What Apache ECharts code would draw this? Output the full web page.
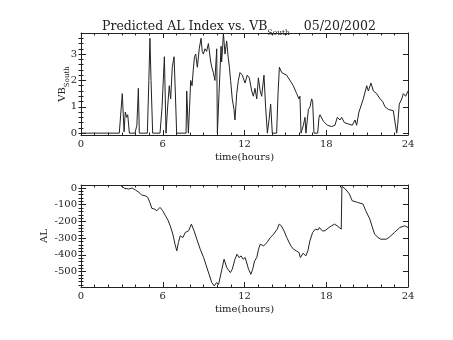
<!DOCTYPE html>
<html>
<head>
<meta charset="utf-8">
<script src="https://cdn.jsdelivr.net/npm/echarts@6/dist/echarts.min.js"></script>
<style>
  html, body { margin: 0; padding: 0; background: #fff; }
  #chart { width: 453px; height: 340px; }
</style>
</head>
<body>
<div id="chart"></div>
<script>
// Southward IMF component (VB_South) through the day, hours UT
const vbHours = [
  0, 2.81, 3.03, 3.16, 3.25, 3.35, 3.43, 3.55, 3.96, 4.1, 4.21, 4.28,
  4.87, 4.98, 5.06, 5.14, 5.26, 5.8, 5.95, 6.12, 6.24, 6.36, 6.48, 6.58,
  6.70, 6.83, 6.92, 7.02, 7.71, 7.76, 7.88, 7.97, 8.05, 8.15, 8.24, 8.33,
  8.42, 8.54, 8.68, 8.81, 8.9, 8.98, 9.1, 9.22, 9.35, 9.52, 9.6, 9.71,
  9.83, 9.96, 10.01, 10.13, 10.28, 10.32, 10.4, 10.45, 10.57, 10.69, 10.8, 10.89,
  10.98, 11.1, 11.23, 11.3, 11.43, 11.55, 11.67, 11.84, 12.04, 12.2, 12.35, 12.53,
  12.65, 12.77, 12.9, 13.02, 13.15, 13.26, 13.43, 13.55, 13.68, 13.8, 13.92, 14.04,
  14.36, 14.46, 14.56, 14.73, 14.9, 15.09, 15.34, 15.58, 15.83, 16.0, 16.07, 16.15,
  16.32, 16.44, 16.51, 16.69, 16.81, 16.93, 17.0, 17.1, 17.37, 17.47, 17.54, 17.79,
  18.08, 18.4, 18.64, 18.81, 19.01, 19.13, 19.33, 19.62, 19.91, 20.11, 20.23, 20.4,
  20.72, 20.97, 21.09, 21.28, 21.46, 21.7, 21.95, 22.14, 22.31, 22.56, 22.92, 23.05,
  23.17, 23.24, 23.36, 23.54, 23.66, 23.83, 24.0
];
const vbValues = [
  0, 0, 1.5, 0.05, 0.8, 0.6, 0.7, 0, 0, 0.3, 1.7, 0,
  0, 2.0, 3.6, 2.0, 0, 0, 1.0, 2.9, 0, 1.0, 1.8, 1.3,
  2.5, 2.9, 1.6, 0, 0, 1.6, 0, 1.0, 2.0, 1.8, 2.4, 2.9,
  3.0, 2.5, 3.2, 3.6, 3.1, 3.0, 3.2, 3.1, 3.4, 2.7, 2.5, 2.3,
  2.0, 3.2, 0, 1.5, 3.3, 2.7, 3.3, 3.8, 3.0, 3.5, 2.9, 2.5,
  2.0, 1.3, 0.9, 0.5, 1.5, 2.0, 2.3, 2.2, 1.9, 2.2, 2.1, 1.6,
  1.4, 1.7, 1.3, 2.1, 1.6, 1.4, 2.2, 1.0, 0, 0.5, 1.1, 0,
  0, 1.5, 2.5, 2.3, 2.25, 2.2, 2.0, 1.8, 1.5, 1.3, 1.4, 0,
  0.3, 0.6, 0, 0.9, 1.0, 1.3, 1.2, 0, 0, 0.6, 0.7, 0.45,
  0.3, 0.25, 0.3, 0.6, 0.5, 0.6, 0.4, 0.35, 0.3, 0.5, 0.3, 0.8,
  1.3, 1.8, 1.6, 1.9, 1.6, 1.5, 1.3, 1.2, 1.0, 0.9, 0.85, 0.8,
  0, 0.3, 1.1, 1.3, 1.5, 1.4, 1.6
];

// Predicted AL index (nT)
const alHours = [
  2.95, 3.2, 3.5, 3.75, 4.0, 4.25, 4.46, 4.7, 4.9, 5.05, 5.2, 5.4, 5.56, 5.8, 6.0,
  6.2, 6.35, 6.55, 6.74, 6.9, 7.03, 7.15, 7.28, 7.48, 7.65, 7.9, 8.1, 8.3, 8.5,
  8.75, 9.0, 9.2, 9.44, 9.6, 9.78, 9.95, 10.1, 10.34, 10.5, 10.7, 10.96, 11.1,
  11.3, 11.45, 11.6, 11.75, 11.9, 12.05, 12.3, 12.47, 12.6, 12.74, 12.9, 13.03,
  13.15, 13.4, 13.65, 13.9, 14.14, 14.4, 14.55, 14.7, 14.9, 15.1, 15.4, 15.6,
  15.8, 16.0, 16.1, 16.3, 16.5, 16.65, 16.8, 17.0, 17.2, 17.4, 17.5, 17.7, 17.9,
  18.2, 18.6, 18.8, 19.1, 19.15, 19.4, 19.7, 19.9, 20.3, 20.7, 20.9, 21.2, 21.35,
  21.55, 21.8, 22.0, 22.4, 22.6, 23.0, 23.4, 23.75, 24.0
];
const alValues = [
  12, -2, -6, 0, -12, -26, -42, -46, -56, -86, -122, -126, -136, -116, -136,
  -166, -186, -226, -276, -336, -376, -326, -286, -296, -266, -256, -216, -256, -306,
  -366, -416, -466, -526, -566, -586, -566, -576, -486, -426, -476, -506, -486,
  -426, -396, -416, -406, -426, -416, -486, -516, -486, -436, -416, -366,
  -336, -346, -326, -296, -276, -246, -216, -226, -256, -296, -346, -366,
  -376, -386, -416, -390, -406, -376, -316, -266, -246, -250, -236, -256, -256,
  -236, -216, -226, -246, 10, -6, -36, -76, -86, -96, -136, -186, -226,
  -276, -296, -306, -306, -296, -266, -236, -226, -236
];

// Tick marks and labels
const hourTicks = [0, 6, 12, 18, 24];
const vbTicks = [0, 1, 2, 3];
const alTicks = [0, -100, -200, -300, -400, -500];
const vbMinorTicks = [];
for (let v = 0; v <= 3.8; v += 0.2) vbMinorTicks.push(+v.toFixed(1));
const alMinorTicks = [];
for (let v = 0; v >= -580; v -= 20) alMinorTicks.push(v);

const FONT = 'DejaVu Serif';
const INK = '#222';

function zip(xs, ys) { return xs.map((x, i) => [x, ys[i]]); }

function hourAxes(gridIndex) {
  const common = {
    type: 'value', gridIndex, min: 0, max: 24, interval: 6,
    axisLine: { onZero: false, lineStyle: { color: INK, width: 1 } },
    axisTick: { inside: true, length: 5, lineStyle: { color: INK } },
    minorTick: { show: true, splitNumber: 6, length: 2.5, lineStyle: { color: INK } },
    splitLine: { show: false }
  };
  return [
    Object.assign({}, common, {
      position: 'bottom',
      axisLabel: {
        margin: 4, color: INK, fontFamily: FONT, fontSize: 10,
        customValues: hourTicks
      },
      name: 'time(hours)', nameLocation: 'middle', nameGap: 17,
      nameMoveOverlap: false,
      nameTextStyle: { color: INK, fontFamily: FONT, fontSize: 10 }
    }),
    Object.assign({}, common, { position: 'top', axisLabel: { show: false } })
  ];
}

function valueAxes(gridIndex, min, max, major, minor, name, nameGap) {
  const base = {
    type: 'value', gridIndex, min, max,
    splitLine: { show: false }
  };
  const line = { onZero: false, lineStyle: { color: INK, width: 1 } };
  return [
    Object.assign({}, base, {
      position: 'left', axisLine: line,
      axisTick: { inside: true, length: 5, customValues: major, lineStyle: { color: INK } },
      axisLabel: { customValues: major, margin: 4, color: INK, fontFamily: FONT, fontSize: 10 },
      name, nameLocation: 'middle', nameRotate: 90, nameGap,
      nameMoveOverlap: false,
      nameTextStyle: {
        color: INK, fontFamily: FONT, fontSize: 10,
        rich: {
          m: { fontFamily: FONT, fontSize: 10, lineHeight: 12, verticalAlign: 'top', color: INK },
          s: { fontFamily: FONT, fontSize: 7, lineHeight: 8, verticalAlign: 'top', padding: [7, 0, 0, 0], color: INK }
        }
      }
    }),
    Object.assign({}, base, {
      position: 'left', axisLine: { show: false },
      axisTick: { inside: true, length: 2.5, customValues: minor, lineStyle: { color: INK } },
      axisLabel: { show: false }
    }),
    Object.assign({}, base, {
      position: 'right', axisLine: line,
      axisTick: { inside: true, length: 5, customValues: major, lineStyle: { color: INK } },
      axisLabel: { show: false }
    }),
    Object.assign({}, base, {
      position: 'right', axisLine: { show: false },
      axisTick: { inside: true, length: 2.5, customValues: minor, lineStyle: { color: INK } },
      axisLabel: { show: false }
    })
  ];
}

const chart = echarts.init(document.getElementById('chart'), null, { renderer: 'canvas' });
chart.setOption({
  animation: false,
  backgroundColor: '#fff',
  title: {
    text: '{m|Predicted AL Index vs. VB}{s|South}{d|05/20/2002}',
    left: 97, top: 15,
    textStyle: {
      fontWeight: 'normal',
      rich: {
        m: { fontFamily: FONT, fontSize: 12.5, fontWeight: 'normal', lineHeight: 14, verticalAlign: 'top', color: INK },
        s: { fontFamily: FONT, fontSize: 7.5, fontWeight: 'normal', lineHeight: 8, verticalAlign: 'top', padding: [9, 0, 0, 0], color: INK },
        d: { fontFamily: FONT, fontSize: 12.5, fontWeight: 'normal', lineHeight: 14, verticalAlign: 'top', padding: [0, 0, 0, 14], color: INK }
      }
    }
  },
  grid: [
    { left: 81, top: 33, width: 327, height: 102 },
    { left: 81, top: 185, width: 327, height: 102 }
  ],
  xAxis: [].concat(hourAxes(0), hourAxes(1)),
  yAxis: [].concat(
    valueAxes(0, -0.07, 3.8, vbTicks, vbMinorTicks, '{m|VB}{s|South}', 12),
    valueAxes(1, -592, 18, alTicks, alMinorTicks, 'AL', 32)
  ),
  series: [
    {
      type: 'line', xAxisIndex: 0, yAxisIndex: 0, data: zip(vbHours, vbValues),
      showSymbol: false, lineStyle: { color: INK, width: 1 }, clip: true
    },
    {
      type: 'line', xAxisIndex: 2, yAxisIndex: 4, data: zip(alHours, alValues),
      showSymbol: false, lineStyle: { color: INK, width: 1 }, clip: true
    }
  ]
});
</script>
</body>
</html>
